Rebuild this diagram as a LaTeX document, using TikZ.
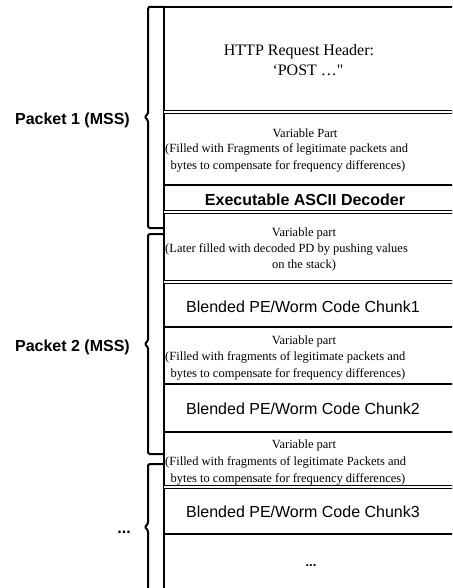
\documentclass[tikz,border=0pt]{standalone}
\usepackage{fontspec}
\setmainfont{Liberation Serif}
\setsansfont{Liberation Sans}
\begin{document}
\begin{tikzpicture}[x=1pt,y=-1pt,
  serifbig/.style={font=\fontsize{16}{20}\selectfont, inner sep=0pt, anchor=base},
  serifsmall/.style={font=\fontsize{12.5}{16}\selectfont, inner sep=0pt, anchor=base},
  sansbig/.style={font=\sffamily\fontsize{16}{20}\selectfont, inner sep=0pt, anchor=base},
  sansbold/.style={font=\sffamily\bfseries\fontsize{16}{20}\selectfont, inner sep=0pt, anchor=base},
  divider/.style={line width=1.8pt},
  dbldivider/.style={line width=0.9pt, double, double distance=1.6pt},
  bracket/.style={line width=2pt, rounded corners=1.5pt, line join=round},
  boxedge/.style={line width=1.8pt}]
\useasboundingbox (0,0) rectangle (452,588);
\clip (0,0) rectangle (452,588);

% column outline
\draw[boxedge] (148,7) -- (470,7);
\draw[boxedge] (164,7) -- (164,600);
\draw[dbldivider] (164,112) -- (470,112);
\draw[divider] (164,185) -- (470,185);
\draw[dbldivider] (164,212) -- (470,212);
\draw[dbldivider] (164,282) -- (470,282);
\draw[divider] (164,327) -- (470,327);
\draw[divider] (164,384) -- (470,384);
\draw[divider] (164,432) -- (470,432);
\draw[dbldivider] (164,487) -- (470,487);
\draw[divider] (164,534) -- (470,534);

% brackets
\draw[bracket] (164,7) -- (148,7) -- (148,114) -- (144.5,117) -- (148,120) -- (148,228) -- (164,228);
\draw[bracket] (164,234) -- (148,234) -- (148,341) -- (144.5,344) -- (148,347) -- (148,454) -- (164,454);
\draw[bracket] (164,464) -- (148,464) -- (148,524) -- (144.5,527) -- (148,530) -- (148,600);

% labels
\node[sansbold, anchor=base east] (p1) at (130,125) {Packet 1 (MSS)};
\node[sansbold, anchor=base east] (p2) at (130,351) {Packet 2 (MSS)};
\node[sansbold, anchor=base east] (p3) at (131,533) {...};

% row texts
\node[serifbig] (h1) at (299,56) {HTTP Request Header:};
\node[serifbig] (h2) at (308,76) {‘POST …\textquotedbl};

\node[serifsmall] (v1a) at (305,138) {Variable Part};
\node[serifsmall, anchor=base west] (v1b) at (165,153) {(Filled with Fragments of legitimate packets and};
\node[serifsmall] (v1c) at (288,169) {bytes to compensate for frequency differences)};

\node[sansbold] (dec) at (305,205) {Executable ASCII Decoder};

\node[serifsmall] (v2a) at (304,236) {Variable part};
\node[serifsmall, anchor=base west] (v2b) at (165,252) {(Later filled with decoded PD by pushing values};
\node[serifsmall] (v2c) at (304,268) {on the stack)};

\node[sansbig] (c1) at (303,312) {Blended PE/Worm Code Chunk1};

\node[serifsmall] (v3a) at (304,344) {Variable part};
\node[serifsmall, anchor=base west] (v3b) at (165,360) {(Filled with fragments of legitimate packets and};
\node[serifsmall] (v3c) at (288,377) {bytes to compensate for frequency differences)};

\node[sansbig] (c2) at (303,414) {Blended PE/Worm Code Chunk2};

\node[serifsmall] (v4a) at (304,448) {Variable part};
\node[serifsmall, anchor=base west] (v4b) at (165,465) {(Filled with fragments of legitimate Packets and};
\node[serifsmall] (v4c) at (288,482) {bytes to compensate for frequency differences)};

\node[sansbig] (c3) at (303,517) {Blended PE/Worm Code Chunk3};

\node[font=\sffamily\bfseries\fontsize{13}{15}\selectfont, inner sep=0pt, anchor=base] (dots) at (311,566) {...};
\end{tikzpicture}
\end{document}
